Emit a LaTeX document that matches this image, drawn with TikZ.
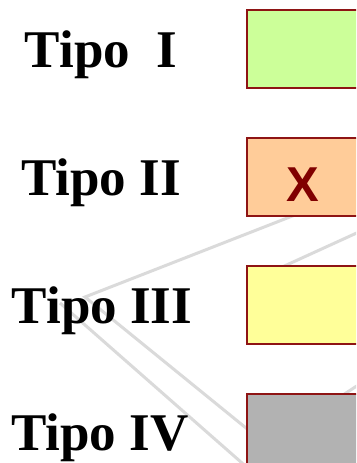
\documentclass[tikz,border=0pt]{standalone}
\usepackage{fontspec}
\setmainfont{Liberation Serif}
\newfontfamily\xfont{Liberation Sans}
\definecolor{boxborder}{HTML}{8E1414}
\definecolor{fillone}{HTML}{CCFF99}
\definecolor{filltwo}{HTML}{FFCC99}
\definecolor{fillthree}{HTML}{FFFF99}
\definecolor{fillfour}{HTML}{B2B2B2}
\definecolor{xred}{HTML}{800000}
\definecolor{faint}{HTML}{DADADA}
\tikzset{
  typebox/.style={draw=boxborder, line width=2pt, rectangle, anchor=north west,
    minimum width=200pt, minimum height=78pt, inner sep=0pt, outer sep=0pt},
  typelabel/.style={anchor=base, inner sep=0pt, font=\fontsize{53}{60}\selectfont\bfseries},
  faintline/.style={draw=faint, line width=3pt},
  xmark/.style={inner sep=0pt, text=xred, font=\xfont\fontsize{49}{55}\selectfont\bfseries}
}
\begin{document}
\begin{tikzpicture}[x=1pt,y=-1pt]
\useasboundingbox (0,0) rectangle (356,463);
\clip (0,0) rectangle (356,463);
% faint background lines
\coordinate (v) at (85,297);
\coordinate (c1) at (300,213);
\coordinate (b1) at (262,441);
\coordinate (a0) at (60,303);
\coordinate (a1) at (250,470);
\coordinate (d0) at (280,268);
\coordinate (d1) at (372,226);
\coordinate (e0) at (320,410);
\coordinate (e1) at (372,376);
\draw[faintline] (c1) -- (v) -- (b1);
\draw[faintline] (a0) -- (a1);
\draw[faintline] (d0) -- (d1);
\draw[faintline] (e0) -- (e1);
% boxes
\node[typebox, fill=fillone]   (box1) at (247,10)  {};
\node[typebox, fill=filltwo]   (box2) at (247,138) {};
\node[typebox, fill=fillthree] (box3) at (247,266) {};
\node[typebox, fill=fillfour]  (box4) at (247,394) {};
\node[xmark] (x2) at (303,185) {X};
% labels
\node[typelabel] (t1) at (101,67)  {Tipo\ \ I};
\node[typelabel] (t2) at (101,195) {Tipo II};
\node[typelabel] (t3) at (102,323) {Tipo III};
\node[typelabel] (t4) at (100,450) {Tipo IV};
\end{tikzpicture}
\end{document}
